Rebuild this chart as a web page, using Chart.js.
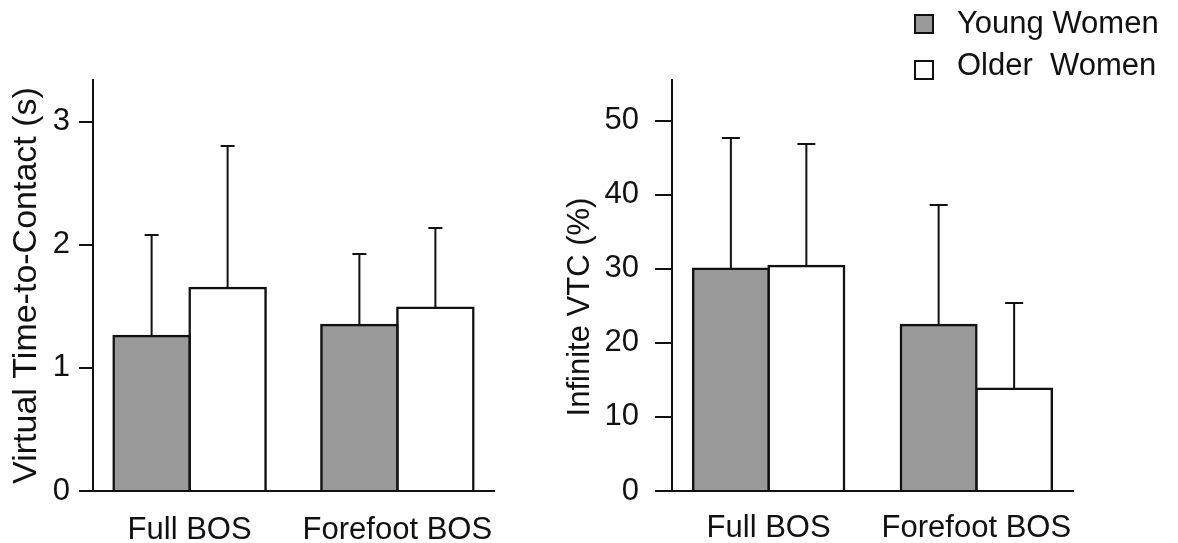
<!DOCTYPE html>
<html lang="en">
<head>
<meta charset="UTF-8" />
<title>Virtual Time-to-Contact and Infinite VTC</title>
<script src="https://cdn.jsdelivr.net/npm/chart.js"></script>
<style>
  body { margin: 0; background: #fff; }
  #wrap { position: relative; width: 1178px; height: 543px; overflow: hidden;
          font-family: 'Liberation Sans', Arial, sans-serif; color: #111; }
  #vtcChart { position: absolute; left: 0; top: 0; }
  #infChart { position: absolute; left: 560px; top: 0; }
  .sw { position: absolute; left: 914px; width: 16px; height: 16px; border: 2px solid #111; }
  .lg { position: absolute; left: 957px; font-size: 31px; line-height: 30px; white-space: pre; }
</style>
</head>
<body>
<div id="wrap">
  <canvas id="vtcChart" width="560" height="543"></canvas>
  <canvas id="infChart" width="618" height="543"></canvas>
  <div class="sw" style="top:14px; background:#999999;"></div>
  <div class="lg" style="top:8px;">Young Women</div>
  <div class="sw" style="top:60px; background:#ffffff;"></div>
  <div class="lg" style="top:50px;">Older  Women</div>
</div>

<script>
  const groups = ['Full BOS', 'Forefoot BOS'];

  // virtual time-to-contact (s): means and SD
  const vtcYoung = [1.26, 1.35];
  const vtcYoungSd = [0.82, 0.58];
  const vtcOlder = [1.65, 1.49];
  const vtcOlderSd = [1.15, 0.65];
  const vtcTicks = [0, 1, 2, 3];

  // share of trials with infinite VTC (%): means and SD
  const infYoung = [30.0, 22.4];
  const infYoungSd = [17.7, 16.2];
  const infOlder = [30.4, 13.8];
  const infOlderSd = [16.4, 11.6];
  const infTicks = [0, 10, 20, 30, 40, 50];

  const INK = '#111111';
  const FONT = { family: "'Liberation Sans', Arial, sans-serif", size: 31 };

  Chart.defaults.font.family = FONT.family;
  Chart.defaults.color = INK;

  // upper SD whiskers on top of each bar
  const errorBars = {
    id: 'errorBars',
    afterDatasetsDraw(chart, args, opts) {
      const ctx = chart.ctx;
      const y = chart.scales.y;
      ctx.save();
      ctx.strokeStyle = INK;
      ctx.lineWidth = 2;
      chart.data.datasets.forEach((ds, i) => {
        chart.getDatasetMeta(i).data.forEach((bar, j) => {
          const top = Math.round(y.getPixelForValue(ds.mean[j] + ds.sd[j]));
          ctx.beginPath();
          ctx.moveTo(bar.x, bar.y);
          ctx.lineTo(bar.x, top);
          ctx.moveTo(bar.x - opts.cap, top);
          ctx.lineTo(bar.x + opts.cap, top);
          ctx.stroke();
        });
      });
      ctx.restore();
    }
  };

  // groups sit at x = 0 and x = 1 on a linear axis
  const toPoints = arr => arr.map((v, i) => ({ x: i, y: v }));

  function makeChart(id, cfg) {
    // inflating by half the border makes neighbouring bars share one outline
    const barStyle = {
      borderColor: INK,
      borderWidth: 2.5,
      borderSkipped: 'start',
      inflateAmount: 1.25,
      barThickness: cfg.barWidth
    };
    return new Chart(document.getElementById(id), {
      type: 'bar',
      data: {
        datasets: [
          Object.assign({ label: 'Young Women', data: toPoints(cfg.young), mean: cfg.young, sd: cfg.youngSd,
                          backgroundColor: '#999999' }, barStyle),
          Object.assign({ label: 'Older Women', data: toPoints(cfg.older), mean: cfg.older, sd: cfg.olderSd,
                          backgroundColor: '#ffffff' }, barStyle)
        ]
      },
      options: {
        responsive: false,
        animation: false,
        devicePixelRatio: 1,
        layout: { padding: { top: 80, right: cfg.padRight, left: 0, bottom: 0 } },
        plugins: {
          legend: { display: false },
          tooltip: { enabled: false },
          errorBars: { cap: cfg.cap }
        },
        scales: {
          x: {
            type: 'linear',
            z: 1,
            min: -0.465,
            max: 1.465,
            offset: false,
            grid: { display: false },
            border: { display: true, color: INK, width: 2 },
            ticks: { font: FONT, color: INK, padding: cfg.xPad, maxRotation: 0, callback: v => groups[v] },
            afterBuildTicks: s => { s.ticks = groups.map((g, i) => ({ value: i })); },
            afterFit: s => { s.height = 52; }
          },
          y: {
            z: 1,
            min: 0,
            max: cfg.max,
            grid: { drawOnChartArea: false, drawTicks: true, tickLength: cfg.tickLen, color: INK, lineWidth: 2 },
            border: { display: true, color: INK, width: 2 },
            ticks: { font: FONT, color: INK, padding: cfg.yPad, includeBounds: false },
            afterBuildTicks: s => { s.ticks = cfg.ticks.map(v => ({ value: v })); },
            afterFit: s => { s.width = cfg.axisWidth; },
            title: {
              display: true,
              text: cfg.title,
              font: Object.assign({}, FONT, { size: cfg.titleSize }),
              color: INK,
              padding: { top: cfg.titlePad, bottom: 0 }
            }
          }
        }
      },
      plugins: [errorBars]
    });
  }

  makeChart('vtcChart', {
    young: vtcYoung, youngSd: vtcYoungSd, older: vtcOlder, olderSd: vtcOlderSd,
    ticks: vtcTicks, max: 3.34, title: 'Virtual Time-to-Contact (s)', titleSize: 34, titlePad: 6,
    axisWidth: 93, padRight: 66, tickLen: 14, yPad: 9, xPad: 13, barWidth: 76, cap: 7
  });

  makeChart('infChart', {
    young: infYoung, youngSd: infYoungSd, older: infOlder, olderSd: infOlderSd,
    ticks: infTicks, max: 55.5, title: 'Infinite VTC (%)     ', titleSize: 31, titlePad: 2,
    axisWidth: 112, padRight: 105, tickLen: 17, yPad: 16, xPad: 11, barWidth: 75.5, cap: 9
  });
</script>
</body>
</html>
